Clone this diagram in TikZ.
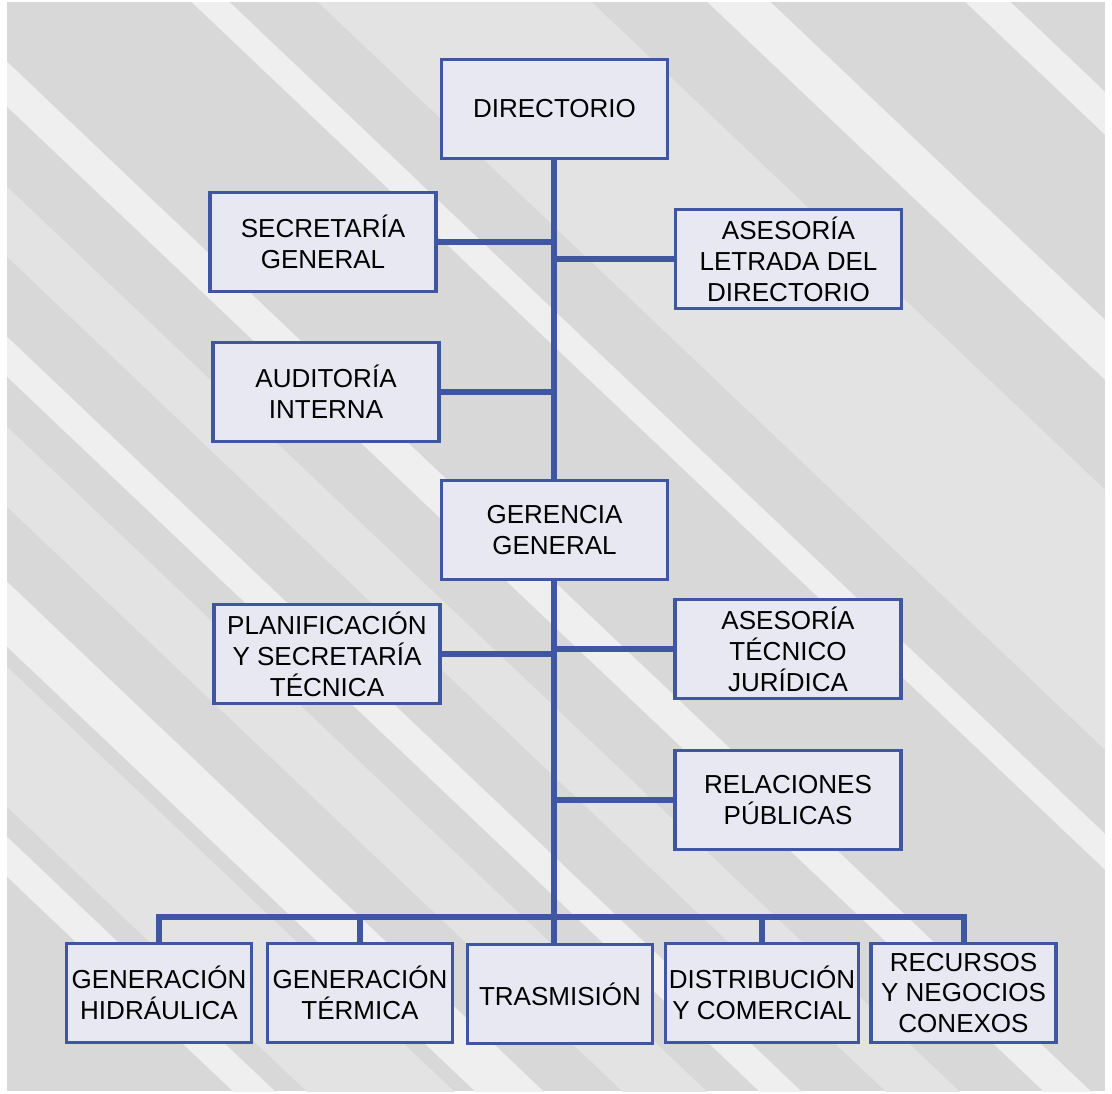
\documentclass[tikz,border=0pt]{standalone}
\usepackage{fontspec}
\setmainfont{Liberation Sans}
\usetikzlibrary{positioning}
\definecolor{mblue}{HTML}{3F56A3}
\definecolor{boxfill}{HTML}{E8E8F3}
\definecolor{bggray}{HTML}{D8D8D8}
\definecolor{bglight}{HTML}{EFEFEF}
\definecolor{bgmid}{HTML}{E3E3E3}

\tikzset{
  unit/.style={draw=mblue, line width=0.9pt, fill=boxfill, minimum width=2.26cm,
    minimum height=0.99cm, align=center, inner sep=1pt,
    font=\fontsize{7.4}{8.8}\selectfont},
  unitlow/.style={unit, minimum width=1.85cm},
  link/.style={mblue, line width=1.7pt}
}

\begin{document}
\begin{tikzpicture}[x=0.01cm, y=-0.01cm]
    \useasboundingbox (0, 0) rectangle (1112, 1093);

    % background with diagonal streaks
    \fill [bggray] (7, 2) rectangle (1105, 1091);
    \begin{scope}
      \clip (7, 2) rectangle (1105, 1091);
      \foreach \ca/\cb/\shade in {-560/-300/bgmid, 180/250/bgmid,
          420/500/bgmid, 660/800/bgmid,
          -958/-915/bglight, -730/-670/bglight, -216/-180/bglight,
          55/100/bglight, 330/370/bglight, 575/640/bglight, 830/870/bglight}
        \fill [\shade] (7, {\ca+6.65}) -- (1105, {\ca+1049.75})
          -- (1105, {\cb+1049.75}) -- (7, {\cb+6.65}) -- cycle;
    \end{scope}

    % upper units
    \node [unit] (dir) at (554.5, 109) {DIRECTORIO};
    \node [unit] (sec) at (323, 242) {SECRETARÍA\\GENERAL};
    \node [unit] (ase) at (788.5, 259) {ASESORÍA\\LETRADA DEL\\DIRECTORIO};
    \node [unit] (aud) at (326, 392) {AUDITORÍA\\INTERNA};
    \node [unit] (ger) at (554.5, 530) {GERENCIA\\GENERAL};
    \node [unit] (pla) at (327, 654) {PLANIFICACIÓN\\Y SECRETARÍA\\TÉCNICA};
    \node [unit] (atj) at (788, 649) {ASESORÍA\\TÉCNICO\\JURÍDICA};
    \node [unit] (rel) at (788, 800) {RELACIONES\\PÚBLICAS};

    % lower units
    \node [unitlow] (hid) at (159, 993) {GENERACIÓN\\HIDRÁULICA};
    \node [unitlow] (ter) at (360, 993) {GENERACIÓN\\TÉRMICA};
    \node [unitlow] (tra) at (560, 994) {TRASMISIÓN};
    \node [unitlow] (dis) at (762, 993) {DISTRIBUCIÓN\\Y COMERCIAL};
    \node [unitlow] (rec) at (963.5, 993) {RECURSOS\\Y NEGOCIOS\\CONEXOS};

    \coordinate (bus) at (554, 917);

    % trunk
    \draw [link] (dir.south -| bus) -- (ger.north -| bus);
    \draw [link] (ger.south -| bus) -- (bus |- tra.north);

    % staff branches
    \draw [link] (sec.east) -- (sec.east -| bus);
    \draw [link] (ase.west) -- (ase.west -| bus);
    \draw [link] (aud.east) -- (aud.east -| bus);
    \draw [link] (pla.east) -- (pla.east -| bus);
    \draw [link] (atj.west) -- (atj.west -| bus);
    \draw [link] (rel.west) -- (rel.west -| bus);

    % bus to the operating units
    \draw [link] (hid.north) |- (bus) -| (rec.north);
    \draw [link] (ter.north) -- (ter.north |- bus);
    \draw [link] (dis.north) -- (dis.north |- bus);
  \end{tikzpicture}
\end{document}
